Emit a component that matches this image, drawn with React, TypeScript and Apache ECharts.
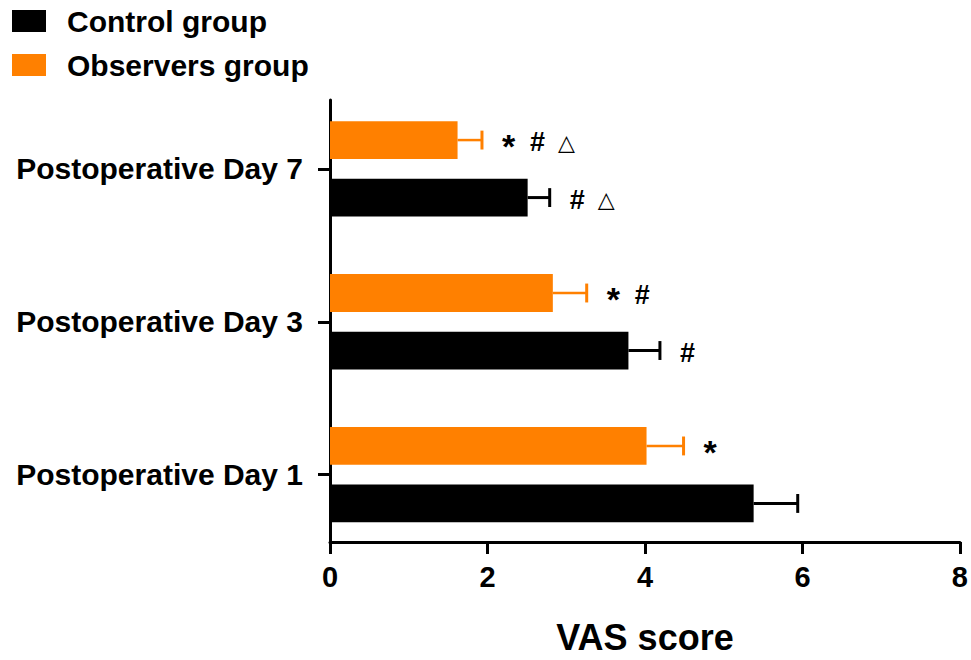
import React, { useEffect, useRef } from "react";
import * as echarts from "echarts";

// Postoperative VAS pain scores (mean ± SD) by group
const categories = ["Postoperative Day 1", "Postoperative Day 3", "Postoperative Day 7"];
const controlMeans = [5.38, 3.79, 2.51];
const controlErrors = [0.56, 0.4, 0.28];
const observerMeans = [4.02, 2.83, 1.62];
const observerErrors = [0.47, 0.43, 0.31];
// significance markers drawn to the right of each error bar
const controlMarks = ["", "#", "# △"];
const observerMarks = ["*", "* #", "* # △"];
const xTicks = [0, 2, 4, 6, 8];

const FONT = "'Liberation Sans', Arial, Helvetica, sans-serif";
const BLACK = "#000000";
const ORANGE = "#FF8000";

const BAR_UNITS = 0.247; // bar thickness in category units
const BAR_OFFSET = 0.188; // distance of each bar from its category centre

function makeRenderItem(color: string, offset: number, marks: string[], lineWidth: number) {
  return (params: any, api: any) => {
    const v = api.value(0);
    const c = api.value(1);
    const e = api.value(2);
    const y = c + offset;
    const start = api.coord([0, y]);
    const end = api.coord([v, y]);
    const errEnd = api.coord([v + e, y]);
    const h = Math.abs(api.size([0, BAR_UNITS])[1]);
    const children: any[] = [
      {
        type: "rect",
        shape: { x: start[0], y: end[1] - h / 2, width: end[0] - start[0], height: h },
        style: { fill: color },
      },
      {
        type: "line",
        shape: { x1: end[0], y1: end[1], x2: errEnd[0], y2: errEnd[1] },
        style: { stroke: color, lineWidth },
      },
      {
        type: "line",
        shape: { x1: errEnd[0], y1: errEnd[1] - h / 4, x2: errEnd[0], y2: errEnd[1] + h / 4 },
        style: { stroke: color, lineWidth: 3 },
      },
    ];
    const symbols = (marks[params.dataIndex] || "").split(" ").filter((s) => s);
    symbols.forEach((s, i) => {
      const isStar = s === "*";
      const isTri = s === "△";
      children.push({
        type: "text",
        style: {
          text: s,
          x: errEnd[0] + 20 + i * 28,
          y: errEnd[1] + (isStar ? 6 : 2),
          fill: BLACK,
          fontSize: isStar ? 34 : isTri ? 22 : 27,
          fontWeight: isTri ? "normal" : "bold",
          fontFamily: isTri ? "'DejaVu Sans', sans-serif" : FONT,
          align: "left",
          verticalAlign: "middle",
        },
      });
    });
    return { type: "group", children };
  };
}

export default function App() {
  const ref = useRef<HTMLDivElement>(null);

  useEffect(() => {
    if (!ref.current) return;
    const chart = echarts.init(ref.current, undefined, { renderer: "svg" });

    const controlData = controlMeans.map((m, i) => [m, i, controlErrors[i]]);
    const observerData = observerMeans.map((m, i) => [m, i, observerErrors[i]]);

    chart.setOption({
      animation: false,
      backgroundColor: "#ffffff",
      legend: {
        orient: "vertical",
        left: 12,
        top: 6,
        padding: 0,
        itemWidth: 34,
        itemHeight: 22,
        itemGap: 14,
        selectedMode: false,
        textStyle: {
          fontSize: 30,
          fontWeight: "bold",
          fontFamily: FONT,
          color: BLACK,
          padding: [0, 0, 0, 16],
        },
        data: [
          { name: "Control group", icon: "rect", itemStyle: { color: BLACK } },
          { name: "Observers group", icon: "rect", itemStyle: { color: ORANGE } },
        ],
      },
      grid: { left: 330, right: 10, top: 100, bottom: 115, containLabel: false },
      xAxis: {
        type: "value",
        min: 0,
        max: 8,
        interval: 2,
        name: "VAS score",
        nameLocation: "middle",
        nameGap: 77,
        nameTextStyle: { fontSize: 36, fontWeight: "bold", fontFamily: FONT, color: BLACK },
        axisLine: { show: true, onZero: false, lineStyle: { color: BLACK, width: 3 } },
        axisTick: { show: true, length: 12, lineStyle: { color: BLACK, width: 3 } },
        axisLabel: {
          margin: 20,
          fontSize: 29,
          fontWeight: "bold",
          fontFamily: FONT,
          color: BLACK,
          customValues: xTicks,
        },
        splitLine: { show: false },
      },
      yAxis: {
        type: "value",
        min: -0.44,
        max: 2.45,
        axisLine: { show: true, onZero: false, lineStyle: { color: BLACK, width: 3 } },
        axisTick: {
          show: true,
          length: 12,
          lineStyle: { color: BLACK, width: 3 },
          customValues: [0, 1, 2],
        },
        axisLabel: {
          margin: 27,
          fontSize: 30,
          fontWeight: "bold",
          fontFamily: FONT,
          color: BLACK,
          customValues: [0, 1, 2],
          formatter: (v: number) => categories[Math.round(v)] ?? "",
        },
        splitLine: { show: false },
      },
      series: [
        {
          name: "Control group",
          type: "custom",
          itemStyle: { color: BLACK },
          renderItem: makeRenderItem(BLACK, -BAR_OFFSET, controlMarks, 3),
          encode: { x: [0, 2], y: 1 },
          data: controlData,
        },
        {
          name: "Observers group",
          type: "custom",
          itemStyle: { color: ORANGE },
          renderItem: makeRenderItem(ORANGE, BAR_OFFSET, observerMarks, 2.5),
          encode: { x: [0, 2], y: 1 },
          data: observerData,
        },
      ],
    });

    return () => chart.dispose();
  }, []);

  return (
    <div
      ref={ref}
      style={{ position: "fixed", left: 0, top: 0, width: 971, height: 660, background: "#fff" }}
    />
  );
}
